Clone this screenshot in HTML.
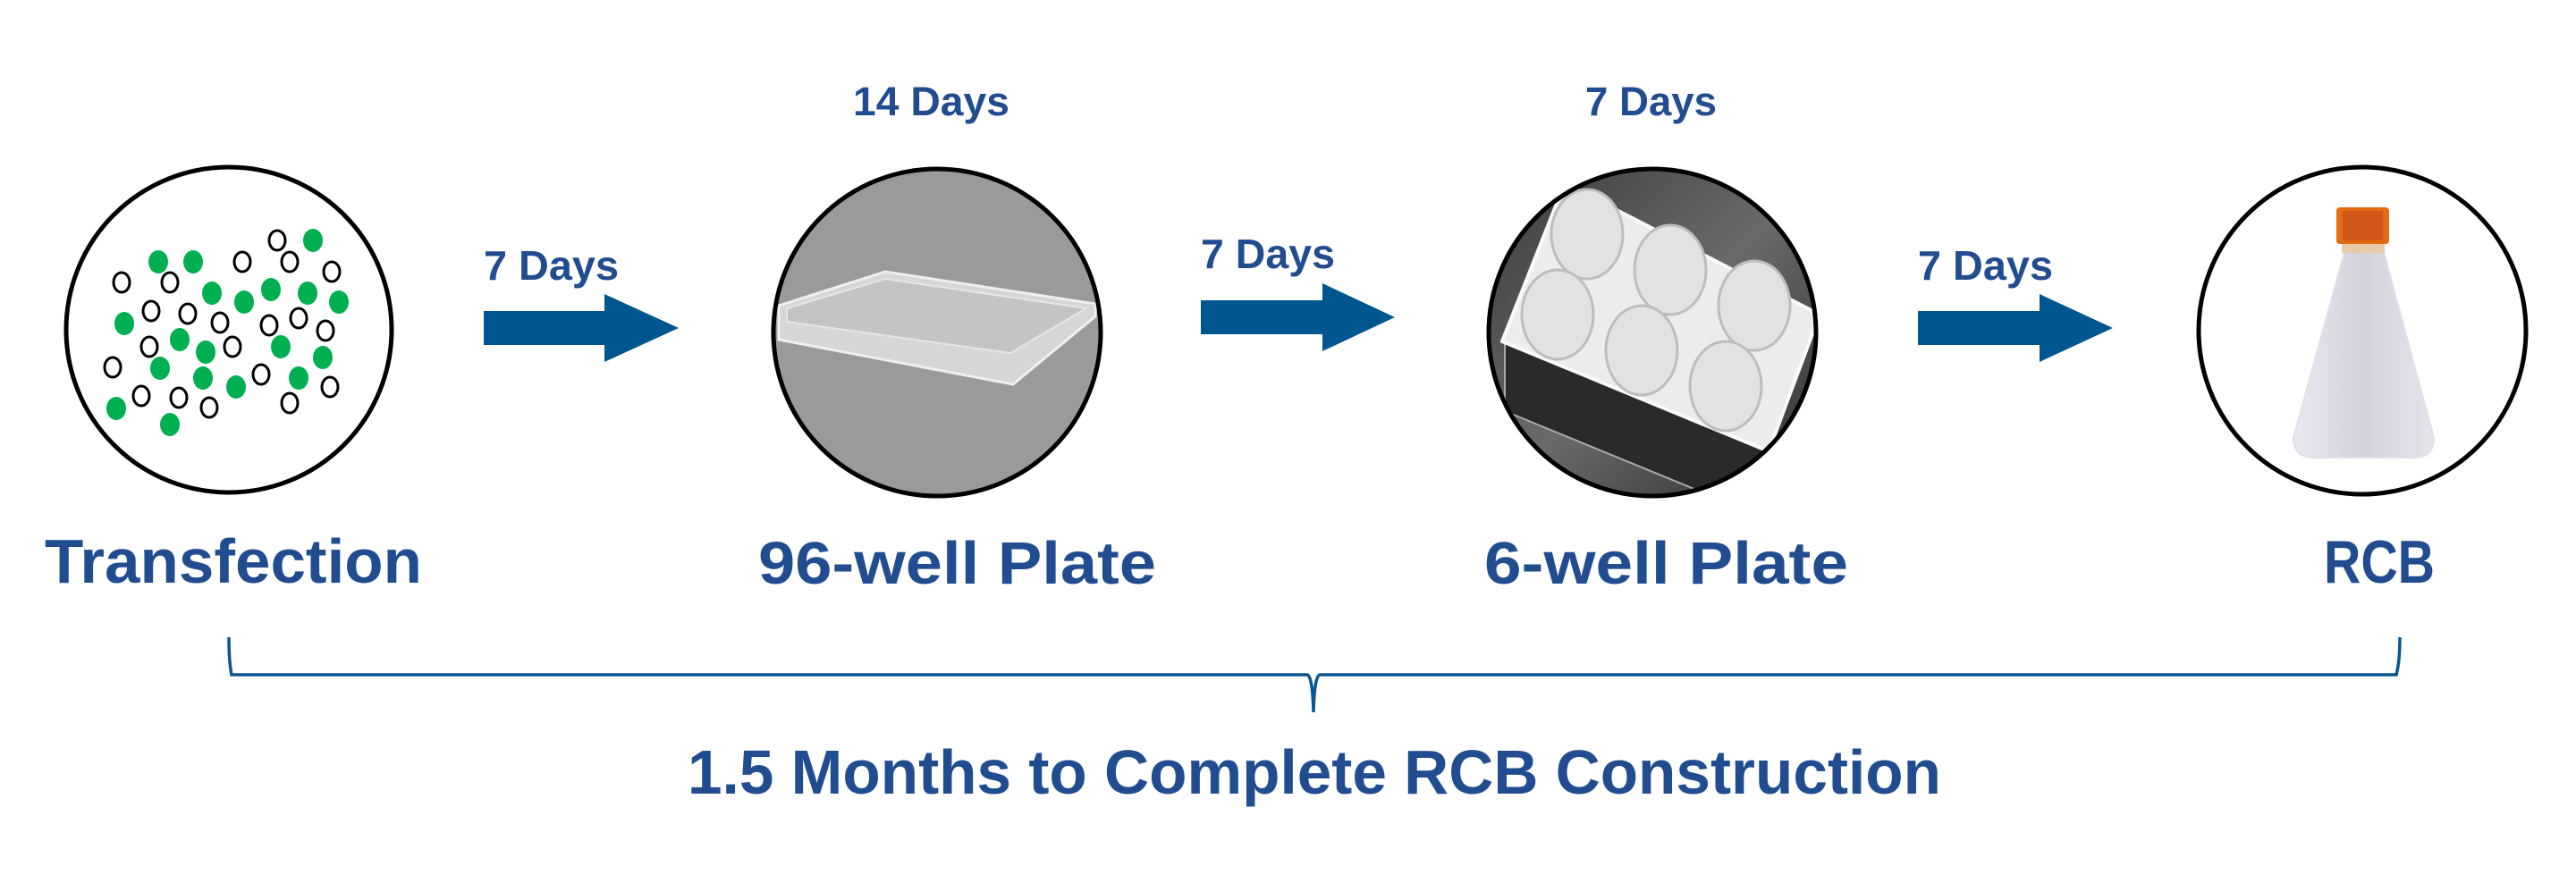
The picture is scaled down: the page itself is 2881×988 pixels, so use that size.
<!DOCTYPE html>
<html><head><meta charset="utf-8"><style>
html,body{margin:0;padding:0;background:#fff;}
svg{display:block;}
text{font-family:"Liberation Sans",sans-serif;font-weight:bold;fill:#214C8F;}
</style></head><body>
<svg width="2881" height="988" viewBox="0 0 2881 988" xmlns="http://www.w3.org/2000/svg">
<defs>
<clipPath id="c2"><circle cx="1048" cy="372" r="183"/></clipPath>
<clipPath id="c3"><circle cx="1848" cy="372" r="183"/></clipPath>
<linearGradient id="g3" x1="0" y1="0" x2="1" y2="1">
<stop offset="0" stop-color="#3a3a3a"/><stop offset="0.5" stop-color="#6a6a6a"/><stop offset="1" stop-color="#2a2a2a"/></linearGradient>
<linearGradient id="fl" x1="0" y1="0" x2="1" y2="0">
<stop offset="0" stop-color="#e8e8ee"/><stop offset="0.5" stop-color="#d2d2dc"/><stop offset="1" stop-color="#e4e4ea"/></linearGradient>
</defs>

<circle cx="256" cy="369" r="182" fill="#fff" stroke="#000" stroke-width="5"/>
<g fill="#00B050">
<ellipse cx="177" cy="293" rx="11" ry="13"/><ellipse cx="216" cy="293" rx="11" ry="13"/><ellipse cx="350" cy="269" rx="11" ry="13"/>
<ellipse cx="237" cy="328" rx="11" ry="13"/><ellipse cx="273" cy="338" rx="11" ry="13"/><ellipse cx="303" cy="324" rx="11" ry="13"/>
<ellipse cx="344" cy="328" rx="11" ry="13"/><ellipse cx="379" cy="338" rx="11" ry="13"/><ellipse cx="139" cy="362" rx="11" ry="13"/>
<ellipse cx="201" cy="380" rx="11" ry="13"/><ellipse cx="230" cy="394" rx="11" ry="13"/><ellipse cx="314" cy="388" rx="11" ry="13"/>
<ellipse cx="361" cy="400" rx="11" ry="13"/><ellipse cx="179" cy="412" rx="11" ry="13"/><ellipse cx="227" cy="423" rx="11" ry="13"/>
<ellipse cx="264" cy="433" rx="11" ry="13"/><ellipse cx="334" cy="423" rx="11" ry="13"/><ellipse cx="130" cy="457" rx="11" ry="13"/>
<ellipse cx="190" cy="475" rx="11" ry="13"/>
</g>
<g fill="#fff" stroke="#000" stroke-width="3">
<ellipse cx="310" cy="269" rx="9" ry="11"/><ellipse cx="271" cy="293" rx="9" ry="11"/><ellipse cx="324" cy="293" rx="9" ry="11"/>
<ellipse cx="371" cy="304" rx="9" ry="11"/><ellipse cx="136" cy="316" rx="9" ry="11"/><ellipse cx="190" cy="316" rx="9" ry="11"/>
<ellipse cx="169" cy="348" rx="9" ry="11"/><ellipse cx="210" cy="351" rx="9" ry="11"/><ellipse cx="246" cy="361" rx="9" ry="11"/>
<ellipse cx="301" cy="364" rx="9" ry="11"/><ellipse cx="334" cy="356" rx="9" ry="11"/><ellipse cx="364" cy="370" rx="9" ry="11"/>
<ellipse cx="167" cy="388" rx="9" ry="11"/><ellipse cx="260" cy="388" rx="9" ry="11"/><ellipse cx="126" cy="411" rx="9" ry="11"/>
<ellipse cx="292" cy="419" rx="9" ry="11"/><ellipse cx="369" cy="433" rx="9" ry="11"/><ellipse cx="158" cy="443" rx="9" ry="11"/>
<ellipse cx="200" cy="445" rx="9" ry="11"/><ellipse cx="234" cy="456" rx="9" ry="11"/><ellipse cx="324" cy="451" rx="9" ry="11"/>
</g>

<g clip-path="url(#c2)">
<rect x="860" y="185" width="380" height="380" fill="#9a9a9a"/>
<polygon points="871,342 990,304 1225,340 1225,354 1133,430 871,380" fill="#d6d6d6" stroke="#efefef" stroke-width="3"/>
<polygon points="880,345 990,312 1215,345 1130,395 880,360" fill="#c4c4c4" stroke="#e6e6e6" stroke-width="2"/>
</g>
<circle cx="1048" cy="372" r="183" fill="none" stroke="#000" stroke-width="5"/>

<g clip-path="url(#c3)">
<rect x="1660" y="185" width="380" height="380" fill="url(#g3)"/>
<polygon points="1683,380 1683,460 1975,580 1995,505" fill="#2a2a2a" stroke="#aaa" stroke-width="2"/>
<polygon points="1750,205 2035,352 1978,505 1680,382" fill="#ececec" stroke="#fafafa" stroke-width="4"/>
<g fill="#e2e2e2" stroke="#bdbdbd" stroke-width="3">
<ellipse cx="1775" cy="262" rx="40" ry="50"/><ellipse cx="1868" cy="302" rx="40" ry="50"/><ellipse cx="1962" cy="342" rx="40" ry="50"/>
<ellipse cx="1742" cy="352" rx="40" ry="50"/><ellipse cx="1836" cy="392" rx="40" ry="50"/><ellipse cx="1930" cy="432" rx="40" ry="50"/>
</g>
</g>
<circle cx="1848" cy="372" r="183" fill="none" stroke="#000" stroke-width="5"/>

<circle cx="2642" cy="370" r="183" fill="#fff" stroke="#000" stroke-width="5"/>
<path d="M2622,282 L2666,282 L2722,490 Q2722,512 2700,512 L2588,512 Q2565,512 2565,490 Z" fill="url(#fl)" stroke="#e0e0e8" stroke-width="2"/>
<rect x="2619" y="272" width="48" height="11" fill="#e8c9a8"/>
<rect x="2613" y="232" width="59" height="41" rx="4" fill="#E36B12"/>
<rect x="2620" y="236" width="45" height="33" fill="#D2561A"/>

<g fill="#00568F">
<polygon points="541,348 676,348 676,329 759,367 676,405 676,386 541,386"/>
<polygon points="1343,336 1479,336 1479,317 1560,355 1479,393 1479,374 1343,374"/>
<polygon points="2145,348 2281,348 2281,329 2363,367 2281,405 2281,386 2145,386"/>
</g>

<text x="541" y="313" font-size="46" textLength="151" lengthAdjust="spacingAndGlyphs">7 Days</text>
<text x="1343" y="300" font-size="46" textLength="150" lengthAdjust="spacingAndGlyphs">7 Days</text>
<text x="2145" y="313" font-size="46" textLength="151" lengthAdjust="spacingAndGlyphs">7 Days</text>
<text x="954" y="129" font-size="45" textLength="175" lengthAdjust="spacingAndGlyphs">14 Days</text>
<text x="1773" y="129" font-size="45" textLength="147" lengthAdjust="spacingAndGlyphs">7 Days</text>

<text x="50" y="652" font-size="70" textLength="422" lengthAdjust="spacingAndGlyphs">Transfection</text>
<text x="848" y="653" font-size="67" textLength="445" lengthAdjust="spacingAndGlyphs">96-well Plate</text>
<text x="1660" y="653" font-size="67" textLength="407" lengthAdjust="spacingAndGlyphs">6-well Plate</text>
<text x="2599" y="652" font-size="68" textLength="124" lengthAdjust="spacingAndGlyphs">RCB</text>

<path d="M256,713 Q256,740 259,755 L1462,755 Q1468,757 1469,797 Q1470,757 1476,755 L2680,755 Q2684,740 2684,713" fill="none" stroke="#0B5590" stroke-width="3.5"/>

<text x="769" y="888" font-size="70" textLength="1402" lengthAdjust="spacingAndGlyphs">1.5 Months to Complete RCB Construction</text>
</svg>
</body></html>
